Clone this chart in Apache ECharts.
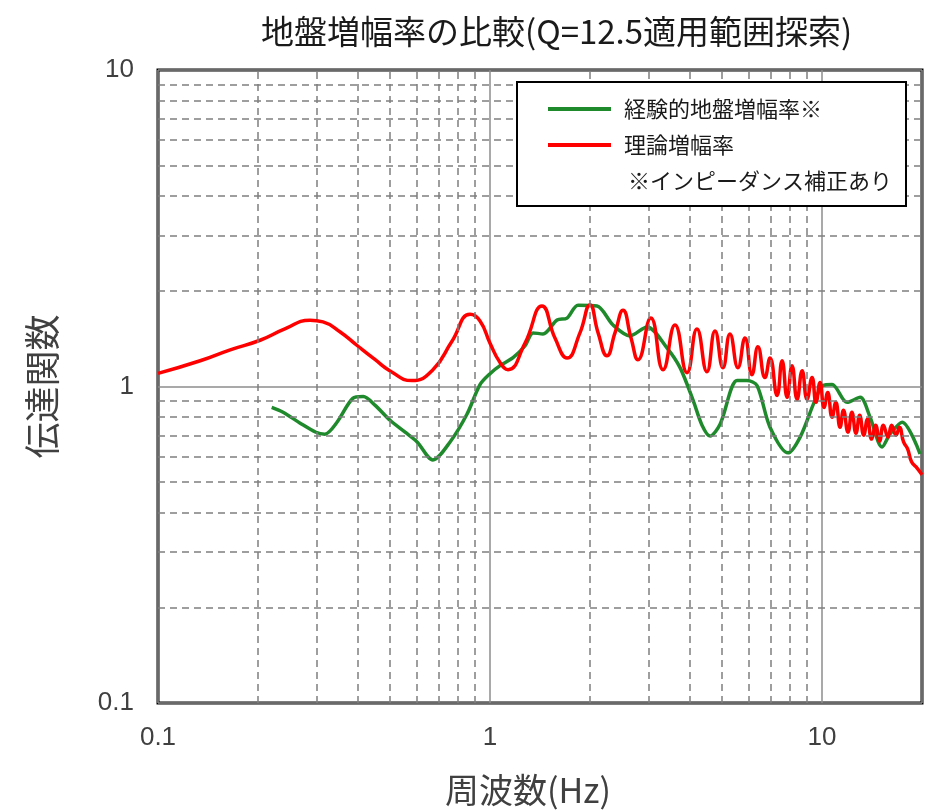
<!DOCTYPE html>
<html>
<head>
<meta charset="utf-8">
<title>地盤増幅率の比較</title>
<script src="https://cdn.jsdelivr.net/npm/echarts@6/dist/echarts.min.js"></script>
<style>
  html, body { margin: 0; padding: 0; background: #fff; }
  #chart { width: 929px; height: 812px; }
</style>
</head>
<body>
<div id="chart"></div>
<script>
// 経験的地盤増幅率 (green)
var greenFreq = [0.220, 0.238, 0.268, 0.299, 0.318, 0.346, 0.386, 0.415, 0.451, 0.500,
  0.555, 0.603, 0.673, 0.758, 0.852, 0.933, 1.000, 1.072, 1.173, 1.274,
  1.348, 1.444, 1.592, 1.706, 1.841, 2.100, 2.347, 2.640, 2.970, 3.410,
  3.735, 4.090, 4.350, 4.600, 4.930, 5.550, 5.940, 6.370, 6.970, 7.900,
  8.590, 9.520, 10.07, 10.72, 11.89, 13.02, 13.95, 15.16, 16.02, 17.42, 19.73];
var greenGain = [0.859, 0.829, 0.766, 0.717, 0.707, 0.771, 0.917, 0.930, 0.872, 0.782,
  0.717, 0.668, 0.586, 0.668, 0.817, 1.014, 1.098, 1.164, 1.233, 1.344,
  1.477, 1.466, 1.622, 1.645, 1.807, 1.795, 1.564, 1.445, 1.543, 1.325,
  1.147, 0.904, 0.755, 0.697, 0.760, 1.044, 1.044, 1.007, 0.744, 0.617,
  0.692, 0.904, 1.007, 1.014, 0.891, 0.924, 0.800, 0.644, 0.707, 0.771, 0.612];

// 理論増幅率 (red)
var redFreq = [0.100, 0.134, 0.165, 0.203, 0.241, 0.287, 0.314, 0.353, 0.397, 0.451,
  0.500, 0.582, 0.673, 0.768, 0.871, 0.933, 1.000, 1.072, 1.133, 1.274,
  1.434, 1.570, 1.706, 1.867, 2.000, 2.115, 2.250, 2.380, 2.515, 2.660,
  2.790, 3.050, 3.320, 3.607, 3.920, 4.200, 4.500, 4.760, 5.030, 5.280,
  5.580, 5.860, 6.150, 6.410, 6.730, 6.970, 7.320, 7.580, 7.850, 8.120,
  8.410, 8.710, 9.010, 9.330, 9.590, 9.860, 10.14, 10.40, 10.72, 11.00,
  11.33, 11.60, 11.97, 12.30, 12.65, 12.98, 13.35, 13.70, 14.10, 14.50,
  14.90, 15.30, 15.80, 16.20, 16.70, 17.10, 17.60, 18.10, 18.60, 19.20, 20.00];
var redGain = [1.100, 1.206, 1.306, 1.400, 1.520, 1.620, 1.600, 1.490, 1.350, 1.215,
  1.120, 1.044, 1.130, 1.390, 1.690, 1.610, 1.370, 1.190, 1.130, 1.370,
  1.795, 1.420, 1.230, 1.480, 1.810, 1.480, 1.250, 1.480, 1.740, 1.420,
  1.215, 1.645, 1.130, 1.565, 1.106, 1.520, 1.114, 1.498, 1.147, 1.466,
  1.147, 1.424, 1.090, 1.335, 1.067, 1.230, 0.937, 1.206, 0.924, 1.164,
  0.911, 1.122, 0.911, 1.067, 0.891, 1.030, 0.859, 0.957, 0.800, 0.891,
  0.744, 0.841, 0.717, 0.829, 0.712, 0.811, 0.702, 0.788, 0.682, 0.755,
  0.672, 0.755, 0.692, 0.755, 0.702, 0.744, 0.668, 0.635, 0.578, 0.557, 0.526];

// dashed grid positions
var xMinorLines = [0.2, 0.3, 0.4, 0.5, 0.6, 0.7, 0.8, 0.9, 2, 3, 4, 5, 6, 7, 8, 9];
var yMinorLines = [0.2, 0.3, 0.4, 0.5, 0.6, 0.7, 0.8, 0.9, 2, 3, 4, 5, 6, 7, 8, 9];

function zip(xs, ys) {
  return xs.map(function (x, i) { return [x, ys[i]]; });
}

var numFont = '"Liberation Sans Narrow", "Liberation Sans", Arial, sans-serif';
var jpFont = '"Noto Sans CJK JP", "Noto Sans", sans-serif';

var chart = echarts.init(document.getElementById('chart'));
chart.setOption({
  animation: false,
  backgroundColor: '#fff',
  title: {
    text: '地盤増幅率の比較(Q=12.5適用範囲探索)',
    left: 256,
    top: 10,
    textStyle: { fontFamily: jpFont, fontSize: 33, fontWeight: 'normal', color: '#1a1a1a' }
  },
  grid: {
    left: 158, right: 7, top: 70, bottom: 104,
    show: true, borderColor: '#000', borderWidth: 3, backgroundColor: '#fff'
  },
  legend: {
    data: ['経験的地盤増幅率※', '理論増幅率'],
    orient: 'vertical',
    left: 543, top: 93,
    itemWidth: 63, itemHeight: 4, icon: 'rect',
    itemGap: 14,
    z: 60,
    textStyle: { fontFamily: jpFont, fontSize: 22, color: '#1a1a1a', padding: [0, 0, 0, 8] }
  },
  graphic: [
    {
      type: 'rect', z: 50,
      shape: { x: 517, y: 82, width: 389, height: 124 },
      style: { fill: '#fff', stroke: '#000', lineWidth: 2 }
    },
    {
      type: 'text', z: 60, left: 628, top: 170,
      style: { text: '※インピーダンス補正あり', fill: '#1a1a1a', font: '22px ' + jpFont }
    }
  ],
  xAxis: {
    type: 'log', logBase: 10, min: 0.1, max: 20,
    axisLine: { show: false }, axisTick: { show: false },
    axisLabel: { fontFamily: numFont, fontSize: 26, color: '#404040', margin: 22, showMaxLabel: false },
    splitLine: { show: true, lineStyle: { color: '#8c8c8c', width: 1.5 } },
    name: '周波数(Hz)', nameLocation: 'middle', nameGap: 70,
    nameTextStyle: { fontFamily: jpFont, fontSize: 34, color: '#404040', padding: [0, 24, 0, 0] }
  },
  yAxis: {
    type: 'log', logBase: 10, min: 0.1, max: 10,
    axisLine: { show: false }, axisTick: { show: false },
    axisLabel: { fontFamily: numFont, fontSize: 26, color: '#404040', margin: 24 },
    splitLine: { show: true, lineStyle: { color: '#8c8c8c', width: 1.5 } },
    name: '伝達関数', nameLocation: 'middle', nameGap: 98, nameRotate: 90,
    nameTextStyle: { fontFamily: jpFont, fontSize: 36, color: '#404040' }
  },
  series: [
    {
      name: 'grid', type: 'line', z: 1, silent: true,
      data: [[1, 1]], showSymbol: false, symbol: 'none',
      lineStyle: { opacity: 0 },
      markLine: {
        silent: true, symbol: 'none', animation: false,
        label: { show: false },
        lineStyle: { type: [7, 5], color: '#7f7f7f', width: 1.5 },
        data: xMinorLines.map(function (v) { return { xAxis: v }; })
          .concat(yMinorLines.map(function (v) { return { yAxis: v }; }))
      }
    },
    {
      name: '経験的地盤増幅率※', type: 'line', z: 3,
      data: zip(greenFreq, greenGain),
      showSymbol: false, symbol: 'none', smooth: 0.3,
      itemStyle: { color: '#1f8a2c' },
      lineStyle: { color: '#1f8a2c', width: 3.5 }
    },
    {
      name: '理論増幅率', type: 'line', z: 4,
      data: zip(redFreq, redGain),
      showSymbol: false, symbol: 'none', smooth: 0.5,
      itemStyle: { color: '#ff0000' },
      lineStyle: { color: '#ff0000', width: 3.5 }
    }
  ]
});
</script>
</body>
</html>
